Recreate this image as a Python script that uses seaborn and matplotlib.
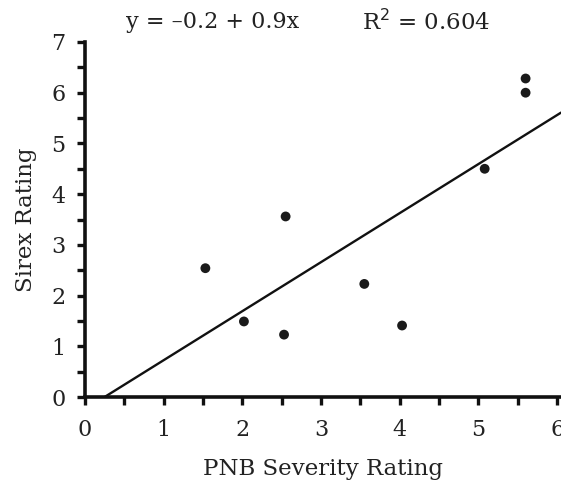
import matplotlib
matplotlib.use("Agg")
import matplotlib.pyplot as plt
import seaborn as sns
import pandas as pd
from matplotlib.ticker import MultipleLocator

# Data
pnb_severity = [1.53, 2.02, 2.53, 2.55, 3.55, 4.03, 5.08, 5.60, 5.60]
sirex_rating = [2.54, 1.49, 1.23, 3.56, 2.23, 1.41, 4.50, 6.28, 6.00]
x_ticks = [0, 1, 2, 3, 4, 5, 6]
y_ticks = [0, 1, 2, 3, 4, 5, 6, 7]
equation_text = "y = \u20130.2 + 0.9x"
r2_text = "R$^2$ = 0.604"
x_label = "PNB Severity Rating"
y_label = "Sirex Rating"

df = pd.DataFrame({"pnb": pnb_severity, "sirex": sirex_rating})

sns.set_style("white")
plt.rcParams["font.family"] = ["DejaVu Serif", "DejaVu Sans"]

fig = plt.figure(figsize=(5.61, 4.91), dpi=100)
ax = fig.add_axes([0.1515, 0.1914, 0.8485, 0.7231])
ax.set_xlim(0, 6.05)
ax.set_ylim(0, 7)

sns.regplot(data=df, x="pnb", y="sirex", ax=ax, ci=None, truncate=False,
            scatter_kws=dict(s=50, color="#1a1a1a", alpha=1, edgecolors="none", zorder=3),
            line_kws=dict(color="#111111", linewidth=1.7))

ax.set_xlim(0, 6.05)
ax.set_ylim(0, 7)
ax.set_xticks(x_ticks)
ax.set_yticks(y_ticks)
ax.xaxis.set_minor_locator(MultipleLocator(0.5))
ax.yaxis.set_minor_locator(MultipleLocator(0.5))
ax.tick_params(which="both", bottom=True, left=True, direction="out",
               length=6, width=2.4, color="#111111")
ax.tick_params(axis="both", which="major", labelsize=16, labelcolor="#222222")
ax.tick_params(axis="x", which="major", pad=10)
ax.tick_params(axis="y", which="major", pad=8)

for side in ["top", "right"]:
    ax.spines[side].set_visible(False)
for side in ["left", "bottom"]:
    ax.spines[side].set_linewidth(2.6)
    ax.spines[side].set_color("#111111")

ax.set_xlabel(x_label, fontsize=16.5, color="#222222", labelpad=12)
ax.set_ylabel(y_label, fontsize=16.5, color="#222222", labelpad=10)

fig.text(126 / 561, 1 - 22 / 491, equation_text, fontsize=16, color="#222222",
         ha="left", va="center")
fig.text(362 / 561, 1 - 22 / 491, r2_text, fontsize=16.5, color="#222222",
         ha="left", va="center")

fig.savefig("out.png", dpi=100, facecolor="white")
